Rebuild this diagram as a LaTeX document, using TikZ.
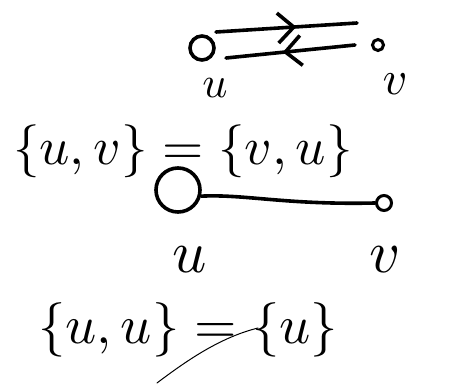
\documentclass[tikz,border=0pt]{standalone}
\usepackage{graphicx}
\usetikzlibrary{arrows.meta,decorations.markings,calc}
\begin{document}
\begin{tikzpicture}[x=1pt,y=-1pt,
  ink/.style={line width=3.6pt,line cap=round,line join=round},
  bigv/.style={circle,draw,line width=3.6pt,inner sep=0pt},
  smallv/.style={circle,draw,line width=3pt,inner sep=0pt},
  lab/.style={inner sep=0pt},
  eq/.style={inner sep=0pt},
  midarrow/.style={postaction={decorate},decoration={markings,
    mark=at position #1 with {\arrow{Straight Barb[length=16pt,width=30pt,line width=3.6pt]}}}}
]
\useasboundingbox (0,0) rectangle (451,385);

% top: two directed edges
\node[bigv,minimum size=24pt] (u) at (202,48) {};
\node[smallv,minimum size=11pt] (v) at (378,45) {};
\node[lab] (lu) at (215,88) {\scalebox{4.4}{$u$}};
\node[lab] (lv) at (395,84) {\scalebox{4.8}{$v$}};
\draw[ink,midarrow=0.57] ($(u)+(14,-16)$) -- ($(v)+(-21,-22)$);
\draw[ink,midarrow=0.56] ($(v)+(-23,0)$) -- ($(u)+(24,10)$);

% middle equation
\node[eq] (s1) at (183,151) {\scalebox{5.3}{$\{u,v\}=\{v,u\}$}};

% loop and edge
\node[bigv,minimum size=44pt] (u2) at (178,190) {};
\node[smallv,minimum size=15pt] (v2) at (384,203) {};
\draw[ink] (u2.-15) .. controls (245,194) and (285,205) .. (v2.west);
\node[lab] (lu2) at (190,260) {\scalebox{6}{$u$}};
\node[lab] (lv2) at (385,260) {\scalebox{6}{$v$}};

% bottom equation
\node[eq] (s2) at (188,330) {\scalebox{5.45}{$\{u,u\}=\{u\}$}};
\draw[line width=1pt,line cap=round] (157,383) .. controls (190,358) and (222,337) .. (258,328);
\end{tikzpicture}
\end{document}
